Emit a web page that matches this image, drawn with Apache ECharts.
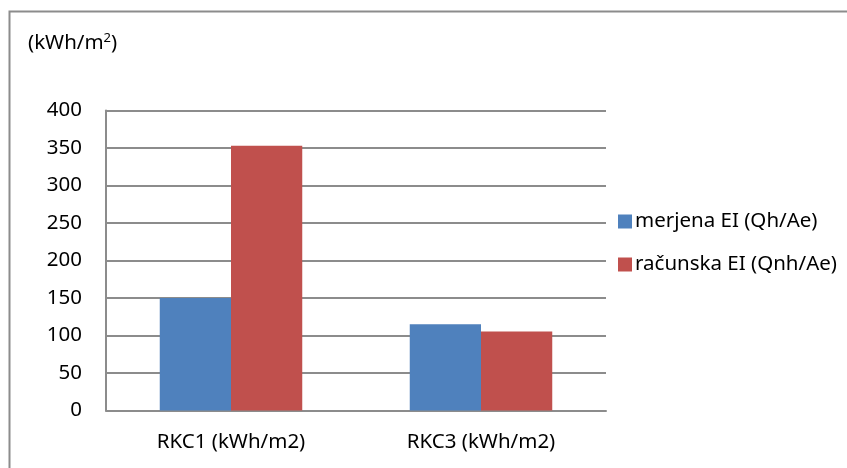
<!DOCTYPE html>
<html>
<head>
<meta charset="utf-8">
<script src="https://cdn.jsdelivr.net/npm/echarts@6/dist/echarts.min.js"></script>
<style>
  html, body { margin: 0; padding: 0; background: #fff; }
  #chart { width: 847px; height: 468px; }
</style>
</head>
<body>
<div id="chart"></div>
<script>
// Energy index per heating plant, measured vs. calculated
const categories = ['RKC1 (kWh/m2)', 'RKC3 (kWh/m2)'];
const seriesNames = ['merjena EI (Qh/Ae)', 'računska EI (Qnh/Ae)'];
const measured = [150, 115];
const calculated = [353, 105.5];
const yTicks = { min: 0, max: 400, interval: 50 };

const FONT = '"Noto Sans", sans-serif';
const chart = echarts.init(document.getElementById('chart'), null, { renderer: 'canvas' });

chart.setOption({
  backgroundColor: '#ffffff',
  animation: false,
  graphic: [{
    type: 'rect',
    shape: { x: 9.5, y: 11.5, width: 900, height: 500 },
    style: { fill: 'none', stroke: '#8c8c8c', lineWidth: 2 },
    silent: true
  }],
  title: {
    text: '(kWh/m{sup|2})',
    left: 23,
    top: 27,
    textStyle: {
      fontFamily: FONT, fontSize: 20.5, fontWeight: 'normal', color: '#000',
      rich: { sup: { fontFamily: FONT, fontSize: 13, verticalAlign: 'top', padding: [0, 0, 10, 0], color: '#000' } }
    }
  },
  legend: {
    orient: 'vertical',
    left: 613,
    top: 206,
    itemWidth: 14,
    itemHeight: 14,
    itemGap: 22,
    icon: 'rect',
    textStyle: { fontFamily: FONT, fontSize: 20.5, color: '#000', padding: [0, 0, 0, -2] },
    data: seriesNames
  },
  grid: { left: 106, right: 241, top: 110.5, bottom: 57.5, containLabel: false },
  xAxis: {
    type: 'category',
    data: categories,
    axisLine: { show: true, lineStyle: { color: '#8c8c8c', width: 2 } },
    axisTick: { show: false },
    axisLabel: { fontFamily: FONT, fontSize: 20.5, color: '#000', margin: 21 }
  },
  yAxis: {
    type: 'value',
    min: yTicks.min,
    max: yTicks.max,
    interval: yTicks.interval,
    axisLine: { show: true, lineStyle: { color: '#8c8c8c', width: 2 } },
    axisTick: { show: false },
    axisLabel: { fontFamily: FONT, fontSize: 20.5, color: '#000', margin: 24 },
    splitLine: { show: true, lineStyle: { color: '#8c8c8c', width: 2 } }
  },
  series: [
    {
      name: seriesNames[0], type: 'bar', data: measured,
      barGap: '0%', barCategoryGap: '43%',
      itemStyle: { color: '#4F81BD' }
    },
    {
      name: seriesNames[1], type: 'bar', data: calculated,
      barGap: '0%', barCategoryGap: '43%',
      itemStyle: { color: '#C0504D' }
    }
  ]
});
</script>
</body>
</html>
